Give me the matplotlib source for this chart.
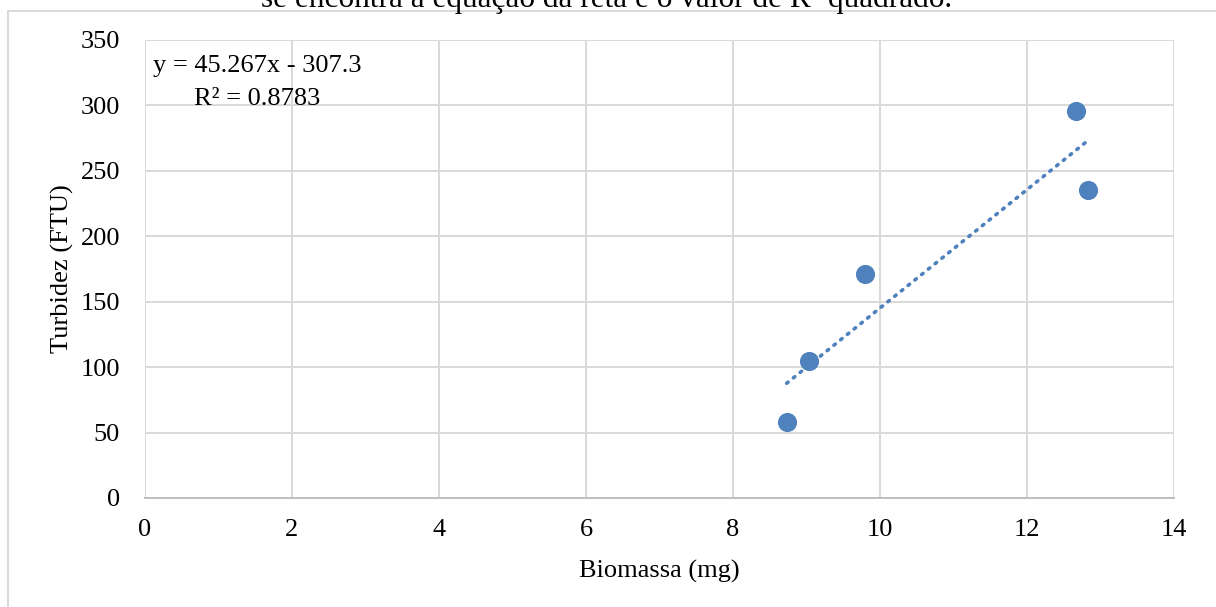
import numpy as np
import matplotlib
matplotlib.use("Agg")
import matplotlib.pyplot as plt
from matplotlib.patches import Rectangle

plt.rcParams['font.family'] = ['Liberation Serif', 'DejaVu Serif']

# Data
biomassa = [8.73, 9.03, 9.80, 12.67, 12.83]
turbidez = [57.7, 104.5, 171.0, 296.0, 235.0]
x_ticks = [0, 2, 4, 6, 8, 10, 12, 14]
y_ticks = [0, 50, 100, 150, 200, 250, 300, 350]
equation_text = "y = 45.267x - 307.3"
r2_text = "R² = 0.8783"
caption_text = "se encontra a equação da reta e o valor de R² quadrado."

W, H = 1216, 607
FS = 19
fig = plt.figure(figsize=(W / 100, H / 100), dpi=100)
ax = fig.add_axes([145 / W, 1 - 498 / H, (1174 - 145) / W, (498 - 40) / H])

blue = '#4f81bd'
grid = '#d9d9d9'

ax.scatter(biomassa, turbidez, s=190, color=blue, zorder=3, linewidths=0)

# linear trendline
coef = np.polyfit(biomassa, turbidez, 1)
xt = np.array([min(biomassa), max(biomassa)])
ax.plot(xt, np.polyval(coef, xt), color=blue, lw=2.6, linestyle=(0, (0.5, 1.9)),
        dash_capstyle='round', zorder=2)

ax.set_xlim(0, 14)
ax.set_ylim(0, 350)
ax.set_xticks(x_ticks)
ax.set_yticks(y_ticks)
ax.grid(True, color=grid, lw=1.4)
ax.set_axisbelow(True)
for s in ['top', 'right', 'left']:
    ax.spines[s].set_visible(False)
ax.spines['bottom'].set_color('#bfbfbf')
ax.spines['bottom'].set_linewidth(1.4)
ax.tick_params(length=0, labelsize=FS, colors='black')
ax.tick_params(axis='x', pad=15)
ax.tick_params(axis='y', pad=18)

ax.set_xlabel('Biomassa (mg)', fontsize=FS, labelpad=14)
ax.set_ylabel('Turbidez (FTU)', fontsize=FS, labelpad=5)

fig.text(153 / W, 1 - 66 / H, equation_text, fontsize=FS, va='center', ha='left')
fig.text(194 / W, 1 - 99 / H, r2_text, fontsize=FS, va='center', ha='left')

# outer chart border
fig.add_artist(Rectangle((8 / W, -0.01), (1230 - 8) / W, 1 - 11 / H + 0.01,
                         transform=fig.transFigure, fill=False,
                         edgecolor=grid, lw=1.4))

# clipped caption at the top
fig.text(607 / W, 1 - 7 / H, caption_text, fontsize=22.5, ha='center', va='baseline')

fig.savefig('out.png', dpi=100)
